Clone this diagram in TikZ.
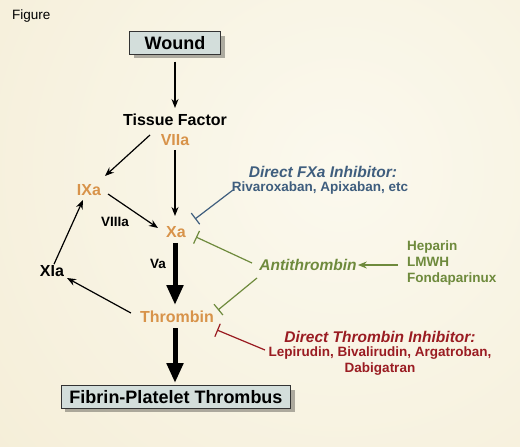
\documentclass[tikz,border=0pt]{standalone}
\usepackage{fontspec}
\setmainfont{Liberation Sans}
\usetikzlibrary{arrows.meta,shadows}
\definecolor{bgin}{HTML}{FBF9EE}
\definecolor{bgout}{HTML}{F0E5C6}
\definecolor{fac}{HTML}{D8934A}
\definecolor{fxablue}{HTML}{3F5E7E}
\definecolor{atgreen}{HTML}{6E8A3C}
\definecolor{dtired}{HTML}{9A1C22}
\definecolor{boxfill}{HTML}{D3DEDB}
\tikzset{
  mainbox/.style={draw=black!80, line width=0.9pt, fill=boxfill, inner xsep=8pt, inner ysep=4.5pt,
    font=\fontsize{18}{20}\selectfont\bfseries,
    drop shadow={shadow xshift=4pt, shadow yshift=-4pt, opacity=0.3, fill=black}},
  lbl/.style={font=\fontsize{16}{18}\selectfont\bfseries, inner sep=1pt},
  factor/.style={lbl, text=fac},
  small/.style={font=\fontsize{13.5}{16}\selectfont\bfseries, inner sep=1pt, align=center},
  head/.style={font=\fontsize{15.5}{17}\selectfont\bfseries\itshape, inner sep=1pt},
  thin/.style={line width=1.2pt, -{Stealth[length=9pt,width=7pt]}},
  thick/.style={line width=5pt, -{Triangle[length=20pt,width=16pt]}},
  inhib/.style={line width=1.2pt, -{Bar[width=14pt,line width=1.2pt]}},
}
\begin{document}
\begin{tikzpicture}[x=1pt,y=-1pt]
\useasboundingbox (0,0) rectangle (520,447);
\begin{scope}
\clip (0,0) rectangle (520,447);
\shade[inner color=bgin, outer color=bgout] (340,170) circle (820);
\end{scope}

\node[anchor=west, font=\fontsize{13.5}{15}\selectfont, inner sep=0pt] (fig) at (12,16) {Figure};

\node[mainbox, minimum width=91pt] (wound) at (175,43) {Wound};
\node[lbl] (tf) at (175,120) {Tissue Factor};
\node[factor] (viia) at (175,140) {VIIa};
\node[factor] (ixa) at (89,190) {IXa};
\node[small] (viiia) at (115,222) {VIIIa};
\node[factor] (xa) at (176,232) {Xa};
\node[small] (va) at (158,264) {Va};
\node[factor] (thr) at (177,317) {Thrombin};
\node[lbl] (xia) at (52,271) {XIa};
\node[mainbox] (fib) at (176,397) {Fibrin-Platelet Thrombus};

\node[head, text=fxablue] (fxah) at (323,172) {Direct FXa Inhibitor:};
\node[small, text=fxablue] (fxad) at (320,188) {Rivaroxaban, Apixaban, etc};

\node[head, text=atgreen] (at) at (308,265) {Antithrombin};
\node[small, text=atgreen, anchor=north west, align=left] (hep) at (406,240) {Heparin\\LMWH\\Fondaparinux};

\node[head, text=dtired] (dtih) at (380,337) {Direct Thrombin Inhibitor:};
\node[small, text=dtired] (dtid) at (380,361) {Lepirudin, Bivalirudin, Argatroban,\\Dabigatran};

% coordinates for inhibitor ends
\coordinate (bx1) at (233,190);
\coordinate (bx2) at (195,219);
\coordinate (gx1) at (252,263);
\coordinate (gx2) at (196,237);
\coordinate (gt1) at (257,278);
\coordinate (gt2) at (218,310);
\coordinate (rt1) at (265,350);
\coordinate (rt2) at (217,330);
\coordinate (hepw) at (398,265);

% arrows
\draw[thin] (wound.south) ++(0,7) -- (175,108);
\draw[thin] (150,135) -- (105,176);
\draw[thin] (viia.south) ++(0,3) -- (175,216);
\draw[thin] (108,194) -- (158,228);
\draw[thin] (xia.north) ++(2,0) -- (83,200);
\draw[thin] (thr.west) ++(-8,-4) -- (67,278);
\draw[thick] (xa.south) ++(-1,4) -- (175,305);
\draw[thick] (thr.south) ++(-2,4) -- (175,383);
\draw[thin, draw=atgreen] (hepw) -- (at.east);

% inhibitors
\draw[inhib, draw=fxablue] (bx1) -- (bx2);
\draw[inhib, draw=atgreen] (gx1) -- (gx2);
\draw[inhib, draw=atgreen] (gt1) -- (gt2);
\draw[inhib, draw=dtired] (rt1) -- (rt2);
\end{tikzpicture}
\end{document}
